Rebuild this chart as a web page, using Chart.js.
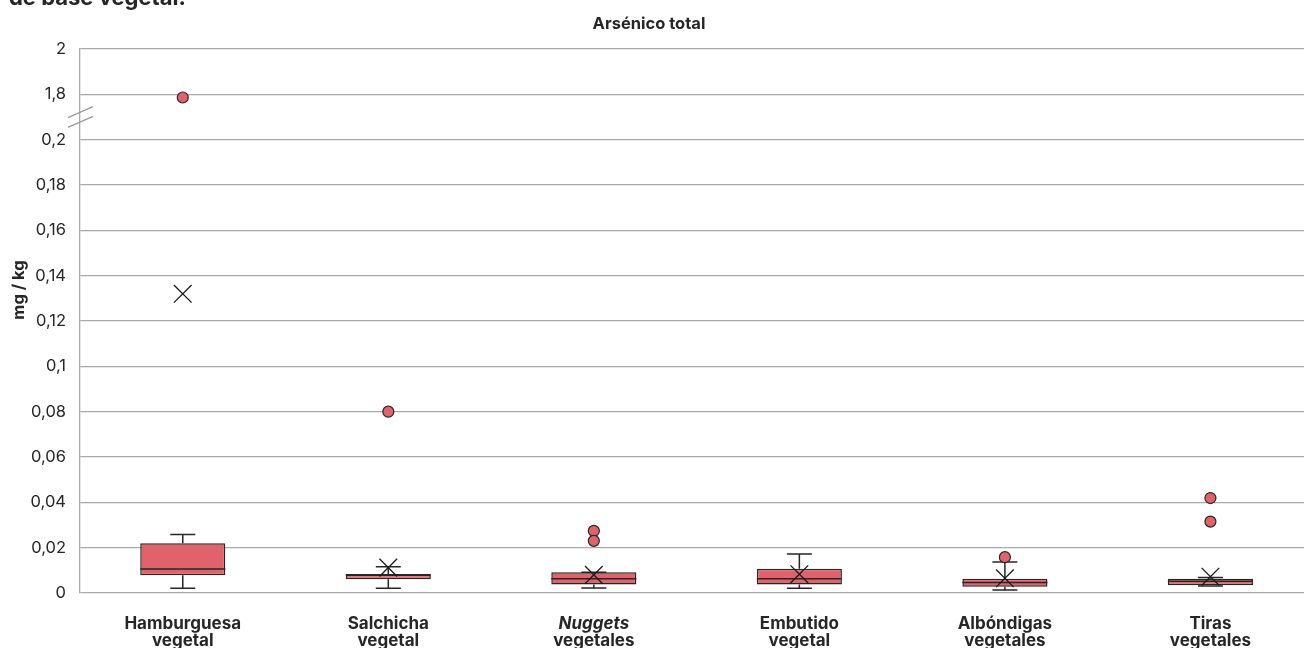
<!DOCTYPE html>
<html lang="es">
<head>
<meta charset="UTF-8">
<title>Arsénico total</title>
<script src="https://cdn.jsdelivr.net/npm/chart.js"></script>
<style>
  html, body { margin: 0; padding: 0; background: #fff; overflow: hidden; }
  #wrap { position: relative; width: 1327px; height: 648px; }
</style>
</head>
<body>
<div id="wrap"><canvas id="boxChart"></canvas></div>

<script>
// Categories (two-line labels are split on the first space)
const categories = ['Hamburguesa vegetal', 'Salchicha vegetal', 'Nuggets vegetales',
                    'Embutido vegetal', 'Albóndigas vegetales', 'Tiras vegetales'];

// Box plot statistics, mg/kg
const whiskerLow  = [0.0021, 0.0021, 0.0022, 0.0021, 0.0013, 0.0031];
const q1          = [0.0078, 0.0061, 0.0037, 0.0037, 0.0028, 0.0034];
const median      = [0.0106, 0.0080, 0.0063, 0.0063, 0.0046, 0.0052];
const q3          = [0.0220, 0.0081, 0.0091, 0.0107, 0.0063, 0.0063];
const whiskerHigh = [0.0258, 0.0116, 0.0091, 0.0172, 0.0137, 0.0068];
const mean        = [0.1320, 0.0112, 0.0080, 0.0083, 0.0065, 0.0072];

// Outliers per category
const outliers = [[1.786], [0.080], [0.0274, 0.0230], [], [0.0158], [0.0419, 0.0315]];

// Y ticks: lower range is real, above the break 0.22/0.24 stand for 1.8/2
const lowTicks = [0, 0.02, 0.04, 0.06, 0.08, 0.1, 0.12, 0.14, 0.16, 0.18, 0.2];
const highTicks = [1.8, 2];

const BREAK_AT = 0.2;
const STEP = 0.02;
const HIGH_STEP = 0.2;

// map a real value onto the broken axis
function toAxis(v) {
  if (v <= BREAK_AT + STEP / 2) return v;
  return BREAK_AT + STEP + (v - highTicks[0]) * (STEP / HIGH_STEP);
}
function tickText(v) {
  const hi = Math.round((v - BREAK_AT) / STEP);
  if (v > BREAK_AT + 1e-9) {
    const real = highTicks[0] + (hi - 1) * HIGH_STEP;
    return String(Math.round(real * 10) / 10).replace('.', ',');
  }
  return String(Math.round(v * 100) / 100).replace('.', ',');
}

const RED = '#e0636b';
const INK = '#262626';
const GRID = '#a9a9a9';
const FONT = 'Inter, "DejaVu Sans", sans-serif';

const outlierPoints = [];
outliers.forEach((list, i) => list.forEach(v => outlierPoints.push({ x: categories[i], y: toAxis(v) })));

// whiskers, medians and all the extra text
const boxExtras = {
  id: 'boxExtras',
  afterDatasetDraw(chart, args) {
    if (args.index !== 0) return;
    const { ctx, scales: { x, y } } = chart;
    const box = args.meta.data[0].width;
    ctx.save();
    ctx.strokeStyle = INK;
    ctx.lineWidth = 1.5;
    categories.forEach((c, i) => {
      const cx = x.getPixelForValue(i);
      const capW = 12.5;
      ctx.beginPath();
      ctx.moveTo(cx, y.getPixelForValue(q3[i]));
      ctx.lineTo(cx, y.getPixelForValue(whiskerHigh[i]));
      ctx.moveTo(cx - capW, y.getPixelForValue(whiskerHigh[i]));
      ctx.lineTo(cx + capW, y.getPixelForValue(whiskerHigh[i]));
      ctx.moveTo(cx, y.getPixelForValue(q1[i]));
      ctx.lineTo(cx, y.getPixelForValue(whiskerLow[i]));
      ctx.moveTo(cx - capW, y.getPixelForValue(whiskerLow[i]));
      ctx.lineTo(cx + capW, y.getPixelForValue(whiskerLow[i]));
      ctx.moveTo(cx - box / 2, y.getPixelForValue(median[i]));
      ctx.lineTo(cx + box / 2, y.getPixelForValue(median[i]));
      ctx.stroke();
    });
    ctx.restore();
  },
  afterDraw(chart) {
    const { ctx, scales: { x, y }, chartArea } = chart;
    ctx.save();

    // axis break marks
    const yMid = (y.getPixelForValue(BREAK_AT) + y.getPixelForValue(BREAK_AT + STEP)) / 2;
    const ax = chartArea.left;
    ctx.strokeStyle = '#9a9a9a';
    ctx.lineWidth = 1.3;
    [-4.8, 4.8].forEach(off => {
      ctx.beginPath();
      ctx.moveTo(ax - 12, yMid + off + 5.5);
      ctx.lineTo(ax + 13, yMid + off - 5.5);
      ctx.stroke();
    });

    ctx.fillStyle = INK;
    // clipped heading line
    ctx.textAlign = 'left';
    ctx.textBaseline = 'alphabetic';
    ctx.font = 'bold 22px ' + FONT;
    ctx.fillText('de base vegetal.', 9, 5);

    // chart title
    ctx.textAlign = 'center';
    ctx.font = 'bold 16.5px ' + FONT;
    ctx.fillText('Arsénico total', 649, 29);

    // y title
    ctx.save();
    ctx.translate(19, 290);
    ctx.rotate(-Math.PI / 2);
    ctx.textBaseline = 'middle';
    ctx.font = 'bold 16.5px ' + FONT;
    ctx.fillText('mg / kg', 0, 0);
    ctx.restore();

    // category labels
    ctx.textAlign = 'center';
    ctx.textBaseline = 'alphabetic';
    categories.forEach((c, i) => {
      const cx = x.getPixelForValue(i);
      const sp = c.indexOf(' ');
      const first = c.slice(0, sp);
      const second = c.slice(sp + 1);
      ctx.font = (first === 'Nuggets' ? 'italic ' : '') + 'bold 17px ' + FONT;
      ctx.fillText(first, cx, 629);
      ctx.font = 'bold 17px ' + FONT;
      ctx.fillText(second, cx, 646);
    });
    ctx.restore();
  }
};

new Chart(document.getElementById('boxChart'), {
  type: 'bar',
  data: {
    labels: categories,
    datasets: [
      {
        label: 'Caja',
        data: q1.map((v, i) => [v, q3[i]]),
        backgroundColor: RED,
        borderColor: INK,
        borderWidth: 1.5,
        borderSkipped: false,
        barPercentage: 0.414,
        categoryPercentage: 1,
        order: 2
      },
      {
        type: 'line',
        label: 'Media',
        data: mean.map(toAxis),
        showLine: false,
        pointStyle: 'crossRot',
        pointRadius: 12.5,
        pointBorderColor: '#1a1a1a',
        pointBorderWidth: 1.3,
        order: 1
      },
      {
        type: 'line',
        label: 'Atípicos',
        data: outlierPoints,
        showLine: false,
        pointStyle: 'circle',
        pointRadius: 5.5,
        pointBackgroundColor: RED,
        pointBorderColor: INK,
        pointBorderWidth: 1.2,
        order: 0
      }
    ]
  },
  options: {
    responsive: true,
    maintainAspectRatio: false,
    animation: false,
    events: [],
    layout: { padding: { top: 49, right: 0, left: 0, bottom: 0 } },
    plugins: {
      legend: { display: false },
      tooltip: { enabled: false },
      title: { display: false }
    },
    scales: {
      x: {
        grid: { display: false },
        border: { display: false },
        ticks: { display: false },
        afterFit(scale) { scale.height = 55; }
      },
      y: {
        min: 0,
        max: toAxis(highTicks[highTicks.length - 1]),
        afterBuildTicks(scale) {
          scale.ticks = lowTicks.concat(highTicks.map(toAxis)).map(v => ({ value: v }));
        },
        ticks: {
          callback: v => tickText(v),
          color: INK,
          padding: 14,
          font: { family: FONT, size: 16.5 }
        },
        grid: { color: GRID, lineWidth: 1.3, drawTicks: false },
        border: { display: true, color: GRID, width: 1.3 },
        afterFit(scale) { scale.width = 80; }
      }
    }
  },
  plugins: [boxExtras]
});
</script>
</body>
</html>
